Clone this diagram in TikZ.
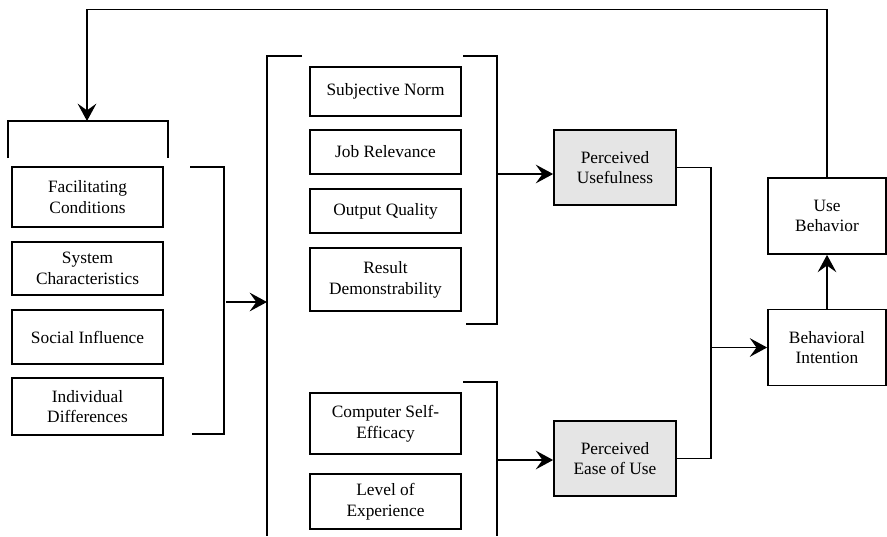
\documentclass[tikz,border=0pt]{standalone}
\usepackage{fontspec}
\setmainfont{Liberation Serif}
\usetikzlibrary{calc,positioning,arrows.meta}

\tikzset{
  box/.style={draw,line width=1.3pt,align=center,inner sep=0pt,
    minimum width=113pt,font=\fontsize{13}{15.6}\selectfont},
  perc/.style={box,fill=gray!20,minimum width=91.5pt,minimum height=56pt},
  outc/.style={box,minimum width=88.5pt,minimum height=57pt},
  brk/.style={line width=1.3pt},
  arr/.style={line width=1.3pt,-{Stealth[length=13pt,width=14pt,inset=5pt]}}
}

\begin{document}
\begin{tikzpicture}[x=0.75pt,y=-0.75pt]
\useasboundingbox (0,0) rectangle (887,536);

%left group
\node[box,minimum height=45pt] (fc) at (87.5,197) {Facilitating\\Conditions};
\node[box,minimum height=40pt] (sc) at (87.5,268.5) {System\\Characteristics};
\node[box,minimum height=40.5pt] (si) at (87.5,337) {Social Influence};
\node[box,minimum height=43pt] (id) at (87.5,406.5) {Individual\\Differences};
\draw[brk] (8,158) -- (8,121) -- (168,121) -- (168,158);
\draw[brk] (190,167) -- (224,167) -- (224,434) -- (192,434);
\coordinate (lg) at (226,302);

%middle group
\draw[brk] (302,56) -- (267,56) -- (267,536);
\coordinate (mg) at (267,302);
\draw[arr] (lg) -- (mg);
\node[box,minimum height=37pt] (sn) at (385.5,91.5) {Subjective Norm};
\node[box,minimum height=33pt] (jr) at (385.5,152) {Job Relevance};
\node[box,minimum height=33pt] (oq) at (385.5,211) {Output Quality};
\node[box,minimum height=47pt] (rd) at (385.5,279.5) {Result\\Demonstrability};
\node[box,minimum height=46pt] (cse) at (385.5,423.5) {Computer Self-\\Efficacy};
\node[box,minimum height=41pt] (loe) at (385.5,501.5) {Level of\\Experience};
\draw[brk] (463,56) -- (497,56) -- (497,324) -- (466,324);
\draw[brk] (463,382) -- (497,382) -- (497,536);
\coordinate (ub) at (497,174);
\coordinate (lb) at (497,460);

%perceptions
\node[perc] (pu) at (615,167.5) {Perceived\\Usefulness};
\node[perc] (peu) at (615,458.5) {Perceived\\Ease of Use};
\draw[arr] (ub) -- (pu.west |- ub);
\draw[arr] (lb) -- (peu.west |- lb);

%intention and use
\node[outc] (bi) at (827,347.5) {Behavioral\\Intention};
\node[outc] (use) at (827,216) {Use\\Behavior};
\coordinate (jn) at (711,347.5);
\draw[brk] (pu.east) -| (jn);
\draw[brk] (peu.east) -| (jn);
\draw[arr] (jn) -- (bi.west);
\draw[arr] (bi.north) -- (use.south);

%feedback
\coordinate (fb) at (87,121);
\draw[arr] (use.north) |- (87,9.5) -- (fb);

\end{tikzpicture}
\end{document}
